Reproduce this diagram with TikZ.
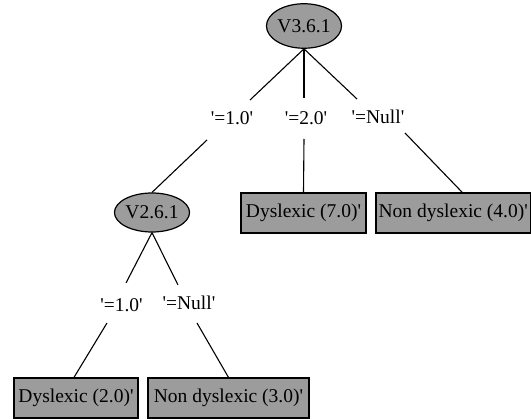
\documentclass[tikz,border=0pt]{standalone}
\usepackage{fontspec}
\setmainfont{Liberation Serif}[Ligatures=TeXOff]
\usetikzlibrary{shapes.geometric}
\definecolor{nodegray}{RGB}{156,156,156}
\tikzset{
  treenode/.style={draw=black, fill=nodegray, ellipse, line width=1.2pt, inner sep=0pt,
    minimum width=74pt, font=\fontsize{19.5}{22}\selectfont},
  leafbox/.style={draw=black, fill=nodegray, rectangle, line width=1.2pt, inner sep=0pt,
    minimum height=40pt, font=\fontsize{19.5}{22}\selectfont},
  edgelabel/.style={inner sep=0pt, font=\fontsize{19.5}{22}\selectfont},
  edgeline/.style={line width=1.1pt, black}
}
\begin{document}
\begin{tikzpicture}[x=1pt, y=-1pt]
\useasboundingbox (0,0) rectangle (531,419);
% nodes
\node[treenode, minimum height=44.5pt] (root) at (304,26) {V3.6.1};
\node[treenode, minimum height=39pt] (v2) at (152,212.5) {V2.6.1};
\node[leafbox, minimum width=125pt] (d7) at (303.5,213) {Dyslexic (7.0)'};
\node[leafbox, minimum width=154.5pt] (nd4) at (453.25,213) {Non dyslexic (4.0)'};
\node[leafbox, minimum width=124pt] (d2) at (76,398) {Dyslexic (2.0)'};
\node[leafbox, minimum width=161pt] (nd3) at (228.5,398) {Non dyslexic (3.0)'};
% edge labels
\node[edgelabel] (l1) at (232,118) {'=1.0'};
\node[edgelabel] (l2) at (306,118) {'=2.0'};
\node[edgelabel] (l3) at (378,116.5) {'=Null'};
\node[edgelabel] (l4) at (121.5,305) {'=1.0'};
\node[edgelabel] (l5) at (189,302.5) {'=Null'};
% break points of connectors
\coordinate (a1) at (250,100);
\coordinate (b1) at (207,140);
\coordinate (a2) at (304,98);
\coordinate (b2) at (304,139);
\coordinate (a3) at (357,99);
\coordinate (b3) at (405,133);
\coordinate (a4) at (126,283);
\coordinate (b4) at (107,323);
\coordinate (a5) at (178,285);
\coordinate (b5) at (197,323);
% connectors
\draw[edgeline] (root.south) -- (a1);
\draw[edgeline] (b1) -- (v2.north);
\draw[edgeline] (root.south) -- (a2);
\draw[edgeline] (b2) -- (d7.north);
\draw[edgeline] (root.south) -- (a3);
\draw[edgeline] (b3) -- ([xshift=9pt]nd4.north);
\draw[edgeline] (v2.south) -- (a4);
\draw[edgeline] (b4) -- ([xshift=-2pt]d2.north);
\draw[edgeline] (v2.south) -- (a5);
\draw[edgeline] (b5) -- (nd3.north);
\end{tikzpicture}
\end{document}
